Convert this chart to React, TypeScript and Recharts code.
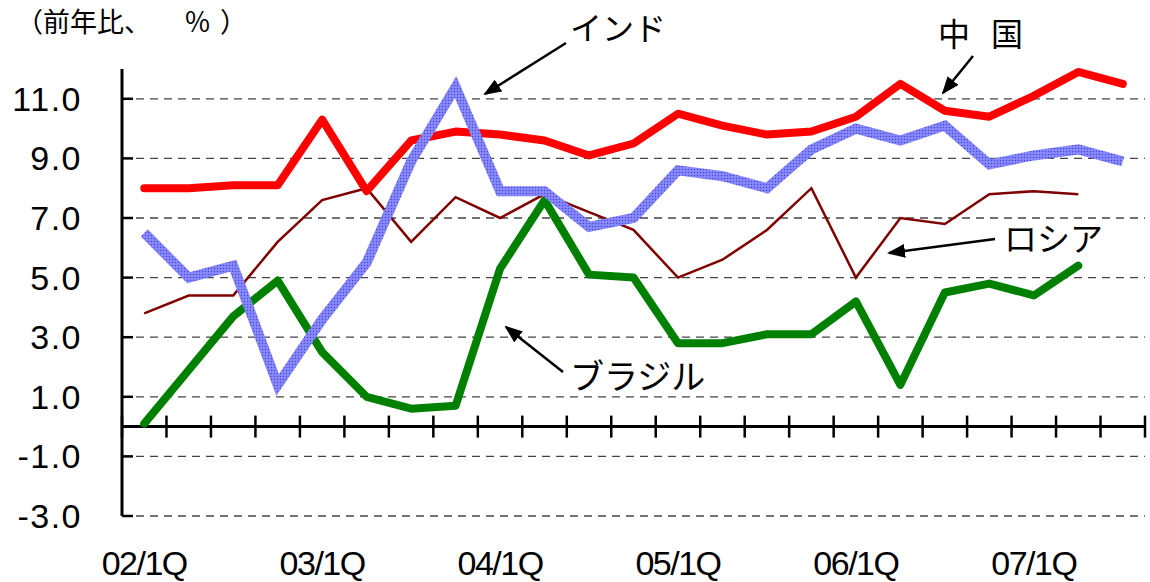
import { LineChart, Line, XAxis, YAxis, CartesianGrid, ReferenceLine } from "recharts"

const quarters = [
  "02/1Q", "02/2Q", "02/3Q", "02/4Q",
  "03/1Q", "03/2Q", "03/3Q", "03/4Q",
  "04/1Q", "04/2Q", "04/3Q", "04/4Q",
  "05/1Q", "05/2Q", "05/3Q", "05/4Q",
  "06/1Q", "06/2Q", "06/3Q", "06/4Q",
  "07/1Q", "07/2Q", "07/3Q",
]

const china = [8.0, 8.0, 8.1, 8.1, 10.3, 7.9, 9.6, 9.9, 9.8, 9.6, 9.1, 9.5, 10.5, 10.1, 9.8, 9.9, 10.4, 11.5, 10.6, 10.4, 11.1, 11.9, 11.5]
const india = [6.5, 5.0, 5.4, 1.4, 3.6, 5.5, 8.9, 11.4, 7.9, 7.9, 6.7, 7.0, 8.6, 8.4, 8.0, 9.3, 10.0, 9.6, 10.1, 8.8, 9.1, 9.3, 8.9]
const russia = [3.8, 4.4, 4.4, 6.2, 7.6, 8.0, 6.2, 7.7, 7.0, 7.8, 7.2, 6.6, 5.0, 5.6, 6.6, 8.0, 5.0, 7.0, 6.8, 7.8, 7.9, 7.8, null]
const brazil = [0.1, 1.9, 3.7, 4.9, 2.5, 1.0, 0.6, 0.7, 5.3, 7.6, 5.1, 5.0, 2.8, 2.8, 3.1, 3.1, 4.2, 1.4, 4.5, 4.8, 4.4, 5.4, null]

const yTicks = [-3, -1, 1, 3, 5, 7, 9, 11]
const xLabelTicks = [0, 4, 8, 12, 16, 20]

const data = quarters.map((q, i) => ({
  idx: i,
  name: q,
  china: china[i],
  india: india[i],
  russia: russia[i],
  brazil: brazil[i],
}))

const numFont = "'Liberation Sans', Arial, sans-serif"
const jpFont = "'Noto Sans CJK JP', sans-serif"

const YTick = (props: any) => {
  const { x, y, payload } = props
  return (
    <g>
      <line x1={x} x2={x + 11} y1={y} y2={y} stroke="#000" strokeWidth={2.5} />
      <text x={x - 40} y={y} dy={12} textAnchor="end" fontSize={34} fontFamily={numFont} letterSpacing={1.5} fill="#000">
        {Number(payload.value).toFixed(1)}
      </text>
    </g>
  )
}

// x axis drawn at y = 0, with tick marks between quarters
const ZeroAxis = (props: any) => {
  const { x1, y1, x2 } = props
  const n = quarters.length
  const step = (x2 - x1) / n
  return (
    <g>
      <line x1={x1} x2={x2} y1={y1} y2={y1} stroke="#000" strokeWidth={3} />
      {Array.from({ length: n + 1 }, (_, k) => (
        <line key={k} x1={x1 + k * step} x2={x1 + k * step} y1={y1 - 11} y2={y1 + 11} stroke="#000" strokeWidth={2.5} />
      ))}
    </g>
  )
}

export default function App() {
  return (
    <div style={{ position: "absolute", left: 0, top: 0, width: 1150, height: 582, background: "#fff" }}>
      <svg width={0} height={0} style={{ position: "absolute" }}>
        <defs>
          <pattern id="indiaDots" patternUnits="userSpaceOnUse" width={3} height={3}>
            <rect width={3} height={3} fill="#8888FF" />
            <circle cx={1.5} cy={1.5} r={0.75} fill="#4848D0" />
          </pattern>
          <marker id="arrowHead" markerUnits="userSpaceOnUse" markerWidth={18} markerHeight={14} refX={16} refY={7} orient="auto">
            <path d="M0,0 L18,7 L0,14 z" fill="#000" />
          </marker>
        </defs>
      </svg>

      <LineChart width={1150} height={582} data={data} margin={{ top: 69, right: 5, left: 42, bottom: 6 }}>
        <CartesianGrid vertical={false} horizontalValues={yTicks} syncWithTicks strokeDasharray="8 6" stroke="#444" strokeWidth={1.3} />
        <XAxis
          type="number"
          dataKey="idx"
          domain={[-0.5, quarters.length - 0.5]}
          ticks={xLabelTicks}
          tickFormatter={(v) => quarters[v]}
          axisLine={false}
          tickLine={false}
          tickSize={0}
          tickMargin={35}
          height={60}
          tick={{ fontSize: 34, fontFamily: numFont, fill: "#000", letterSpacing: -1.5 }}
          interval={0}
        />
        <YAxis
          type="number"
          domain={[-3, 12]}
          ticks={yTicks}
          width={80}
          axisLine={{ stroke: "#000", strokeWidth: 3 }}
          tickLine={false}
          tickSize={0}
          tickMargin={0}
          tick={<YTick />}
          interval={0}
        />
        <ReferenceLine y={0} shape={<ZeroAxis />} ifOverflow="extendDomain" />
        <Line dataKey="russia" stroke="#800000" strokeWidth={2.5} dot={false} isAnimationActive={false} />
        <Line dataKey="brazil" stroke="#008000" strokeWidth={8} strokeLinecap="round" strokeLinejoin="round" dot={false} isAnimationActive={false} />
        <Line dataKey="china" stroke="#FF0000" strokeWidth={8} strokeLinecap="round" strokeLinejoin="round" dot={false} isAnimationActive={false} />
        <Line dataKey="india" stroke="url(#indiaDots)" strokeWidth={10} strokeLinejoin="miter" dot={false} isAnimationActive={false} />
      </LineChart>

      <svg width={1150} height={582} style={{ position: "absolute", left: 0, top: 0, pointerEvents: "none" }}>
        <g fontFamily={jpFont} fill="#000">
          <text x={16} y={32} fontSize={27}>（前年比、</text>
          <text x={184} y={32} fontSize={27}>％</text>
          <text x={220} y={32} fontSize={27}>）</text>
          <text x={570} y={40} fontSize={32}>インド</text>
          <text x={938} y={46} fontSize={32}>中</text>
          <text x={991} y={46} fontSize={32}>国</text>
          <text x={1004} y={251} fontSize={33}>ロシア</text>
          <text x={570} y={389} fontSize={34}>ブラジル</text>
        </g>
        <g stroke="#000" strokeWidth={2.5}>
          <line x1={566} y1={43} x2={485} y2={94} markerEnd="url(#arrowHead)" />
          <line x1={973} y1={56} x2={943} y2={93} markerEnd="url(#arrowHead)" />
          <line x1={995} y1={239} x2={889} y2={253} markerEnd="url(#arrowHead)" />
          <line x1={563} y1={372} x2={506} y2={327} markerEnd="url(#arrowHead)" />
        </g>
      </svg>
    </div>
  )
}
